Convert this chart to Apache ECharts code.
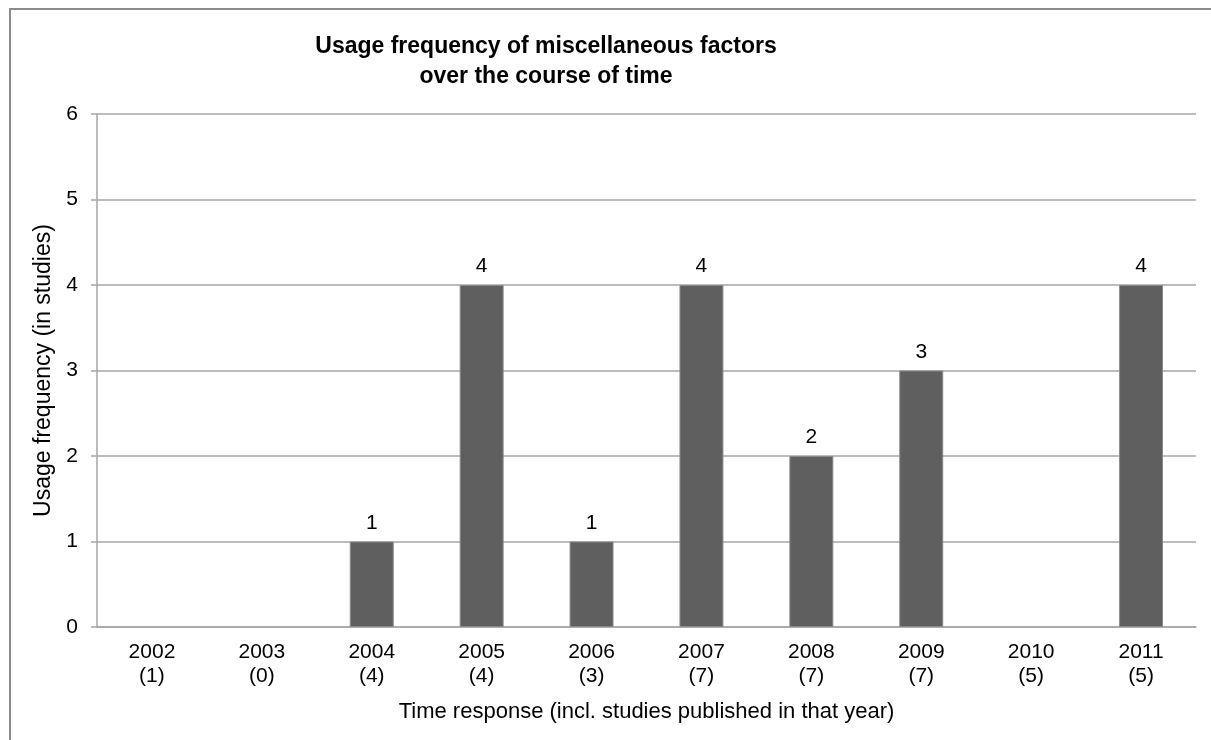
<!DOCTYPE html>
<html>
<head>
<meta charset="utf-8">
<script src="https://cdn.jsdelivr.net/npm/echarts@6/dist/echarts.min.js"></script>
<style>
  html, body { margin: 0; padding: 0; background: #fff; }
  #chart { width: 1211px; height: 740px; }
</style>
</head>
<body>
<div id="chart"></div>
<script>
// Years and the number of studies published in each year
const years = ['2002', '2003', '2004', '2005', '2006', '2007', '2008', '2009', '2010', '2011'];
const studiesPerYear = [1, 0, 4, 4, 3, 7, 7, 7, 5, 5];
// Usage frequency of miscellaneous factors per year
const usage = [0, 0, 1, 4, 1, 4, 2, 3, 0, 4];
const yTicks = [0, 1, 2, 3, 4, 5, 6];

const categories = years.map((y, i) => y + '\n(' + studiesPerYear[i] + ')');
const font = 'Liberation Sans, Arial, sans-serif';

// zero-height bars get neither a label nor an outline
const barData = usage.map(v => v === 0
  ? { value: v, label: { show: false }, itemStyle: { borderWidth: 0 } }
  : v);

const chart = echarts.init(document.getElementById('chart'), null, { renderer: 'canvas' });
chart.setOption({
  animation: false,
  backgroundColor: '#ffffff',
  title: {
    text: 'Usage frequency of miscellaneous factors\nover the course of time',
    left: 541,
    top: 27,
    textAlign: 'center',
    textStyle: { fontFamily: font, fontSize: 23, fontWeight: 'bold', color: '#000', lineHeight: 30 }
  },
  graphic: [{
    type: 'rect',
    shape: { x: 10, y: 9, width: 1300, height: 900 },
    style: { fill: 'none', stroke: '#8c8c8c', lineWidth: 2 },
    silent: true
  }],
  grid: { left: 97, right: 15, top: 114, bottom: 113 },
  xAxis: {
    type: 'category',
    data: categories,
    name: 'Time response (incl. studies published in that year)',
    nameLocation: 'middle',
    nameGap: 74,
    nameTextStyle: { fontFamily: font, fontSize: 22, color: '#000', verticalAlign: 'top' },
    axisLine: { show: true, lineStyle: { color: '#a6a6a6', width: 1.5 } },
    axisTick: { show: false },
    axisLabel: { fontFamily: font, fontSize: 21, color: '#000', lineHeight: 24, margin: 13 }
  },
  yAxis: {
    type: 'value',
    min: yTicks[0],
    max: yTicks[yTicks.length - 1],
    interval: 1,
    name: 'Usage frequency (in studies)',
    nameLocation: 'middle',
    nameGap: 36,
    nameTextStyle: { fontFamily: font, fontSize: 23, color: '#000' },
    axisLine: { show: true, lineStyle: { color: '#a6a6a6', width: 1.5 } },
    axisTick: { show: true, length: 6, lineStyle: { color: '#a6a6a6', width: 1.5 } },
    axisLabel: { fontFamily: font, fontSize: 21, color: '#000', margin: 19 },
    splitLine: { show: true, lineStyle: { color: '#a6a6a6', width: 1.5 } }
  },
  series: [{
    type: 'bar',
    data: barData,
    barWidth: '40%',
    z: 1,
    itemStyle: { color: '#5f5f5f', borderColor: '#8a8a8a', borderWidth: 1 },
    label: {
      show: true,
      position: 'top',
      distance: 8,
      fontFamily: font,
      fontSize: 21,
      color: '#000'
    }
  }]
});
</script>
</body>
</html>
